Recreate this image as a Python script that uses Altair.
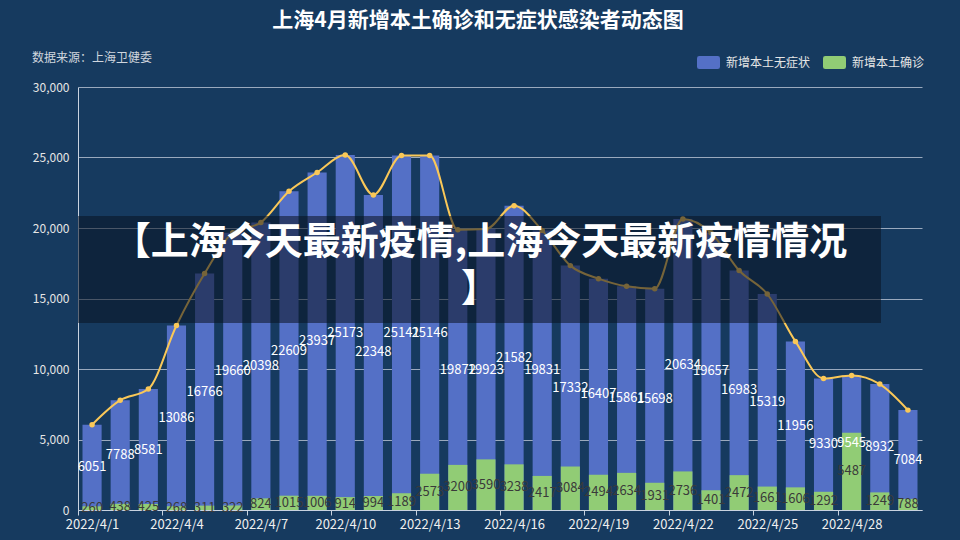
import altair as alt
import pandas as pd

dates = ["2022/4/1", "2022/4/2", "2022/4/3", "2022/4/4", "2022/4/5", "2022/4/6",
         "2022/4/7", "2022/4/8", "2022/4/9", "2022/4/10", "2022/4/11", "2022/4/12",
         "2022/4/13", "2022/4/14", "2022/4/15", "2022/4/16", "2022/4/17", "2022/4/18",
         "2022/4/19", "2022/4/20", "2022/4/21", "2022/4/22", "2022/4/23", "2022/4/24",
         "2022/4/25", "2022/4/26", "2022/4/27", "2022/4/28", "2022/4/29", "2022/4/30"]
asymptomatic = [6051, 7788, 8581, 13086, 16766, 19660, 20398, 22609, 23937, 25173,
                22348, 25141, 25146, 19872, 19923, 21582, 19831, 17332, 16407, 15861,
                15698, 20634, 19657, 16983, 15319, 11956, 9330, 9545, 8932, 7084]
confirmed = [260, 438, 425, 268, 311, 322, 824, 1015, 1006, 914,
             994, 1189, 2573, 3200, 3590, 3238, 2417, 3084, 2494, 2634,
             1931, 2736, 1401, 2472, 1661, 1606, 1292, 5487, 1249, 788]
series_names = ["新增本土无症状", "新增本土确诊"]
series_colors = ["#5470c6", "#91cc75"]
tick_dates = ["2022/4/1", "2022/4/4", "2022/4/7", "2022/4/10", "2022/4/13",
              "2022/4/16", "2022/4/19", "2022/4/22", "2022/4/25", "2022/4/28"]

title_text = "上海4月新增本土确诊和无症状感染者动态图"
subtitle_text = "数据来源：上海卫健委"
banner_line1 = "【上海今天最新疫情,上海今天最新疫情情况"
banner_line2 = "】"

FONT = "Noto Sans CJK SC"

rows = []
for d, v in zip(dates, asymptomatic):
    rows.append({"date": d, "series": series_names[0], "value": v})
for d, v in zip(dates, confirmed):
    rows.append({"date": d, "series": series_names[1], "value": v})
bars_df = pd.DataFrame(rows)
line_df = pd.DataFrame({"date": dates, "value": asymptomatic})
one = pd.DataFrame({"k": [0]})

x_enc = alt.X(
    "date:N", sort=dates, title=None,
    scale=alt.Scale(paddingInner=0.32, paddingOuter=0.16),
    axis=alt.Axis(values=tick_dates, labelAngle=0, tickOffset=-14, labelOffset=14,
                  domainColor="#c9d3e0", tickColor="#c9d3e0", tickSize=5,
                  labelColor="#f0f0f0", labelFontSize=13, labelPadding=3,
                  labelFont=FONT, grid=False),
)
y_scale = alt.Scale(domain=[0, 30000])
y_axis = alt.Axis(values=[0, 5000, 10000, 15000, 20000, 25000, 30000], format=",d",
                  labelColor="#e6e6e6", labelFontSize=12, labelFont=FONT,
                  domainColor="#c9d3e0", ticks=False, labelPadding=9,
                  gridColor="#a9b6c8", gridOpacity=0.9, title=None)

rect_path = ("M-0.8,-0.565 H0.8 Q1,-0.565 1,-0.365 V0.365 Q1,0.565 0.8,0.565 "
             "H-0.8 Q-1,0.565 -1,0.365 V-0.365 Q-1,-0.565 -0.8,-0.565 Z")

bars = alt.Chart(bars_df).mark_bar().encode(
    x=x_enc,
    y=alt.Y("value:Q", stack=None, scale=y_scale, axis=y_axis),
    color=alt.Color(
        "series:N",
        scale=alt.Scale(domain=series_names, range=series_colors),
        legend=alt.Legend(orient="none", legendX=619, legendY=-36, direction="horizontal",
                          title=None, symbolType=rect_path, symbolSize=529,
                          symbolStrokeWidth=0, symbolOpacity=1, labelColor="#e6e6e6",
                          labelFontSize=12, labelFont=FONT, columnPadding=12,
                          labelOffset=6),
    ),
)

labels = alt.Chart(bars_df).transform_calculate(
    mid="datum.value / 2"
).mark_text(fontSize=13, font=FONT, baseline="middle", align="center").encode(
    x=alt.X("date:N", sort=dates),
    y=alt.Y("mid:Q", scale=y_scale),
    text=alt.Text("value:Q", format="d"),
    color=alt.condition(alt.datum.series == series_names[0],
                        alt.value("#ffffff"), alt.value("#3a3a3a")),
)

line = alt.Chart(line_df).mark_line(interpolate="monotone", color="#fac858",
                                    strokeWidth=2).encode(
    x=alt.X("date:N", sort=dates),
    y=alt.Y("value:Q", scale=y_scale),
)
points = alt.Chart(line_df).mark_point(filled=True, size=30, color="#fac858",
                                       opacity=1).encode(
    x=alt.X("date:N", sort=dates),
    y=alt.Y("value:Q", scale=y_scale),
)

banner = alt.Chart(one).mark_rect(color="#0a1220", opacity=0.55).encode(
    x=alt.value(0), x2=alt.value(803), y=alt.value(129), y2=alt.value(236)
)
banner_t1 = alt.Chart(one).mark_text(
    text=banner_line1, font=FONT, fontSize=38, fontWeight="bold", color="#ffffff",
    align="center", baseline="middle"
).encode(x=alt.value(402), y=alt.value(156))
banner_t2 = alt.Chart(one).mark_text(
    text=banner_line2, font=FONT, fontSize=38, fontWeight="bold", color="#ffffff",
    align="center", baseline="middle"
).encode(x=alt.value(402), y=alt.value(203))

title = alt.Chart(one).mark_text(
    text=title_text, font=FONT, fontSize=21, fontWeight="bold", color="#ffffff",
    align="center", baseline="middle"
).encode(x=alt.value(400), y=alt.value(-66))
subtitle = alt.Chart(one).mark_text(
    text=subtitle_text, font=FONT, fontSize=12, color="#d0d6de",
    align="left", baseline="middle"
).encode(x=alt.value(-46), y=alt.value(-29))

chart = alt.layer(
    bars, labels, line, points, banner, banner_t1, banner_t2, title, subtitle
).properties(
    width=844, height=423,
    autosize=alt.AutoSizeParams(type="none"),
    padding={"left": 78, "top": 87, "right": 38, "bottom": 30},
    background="#163a5f",
).configure_view(stroke=None)

chart.save("out.html", embed_options={"renderer": "svg", "actions": False})
